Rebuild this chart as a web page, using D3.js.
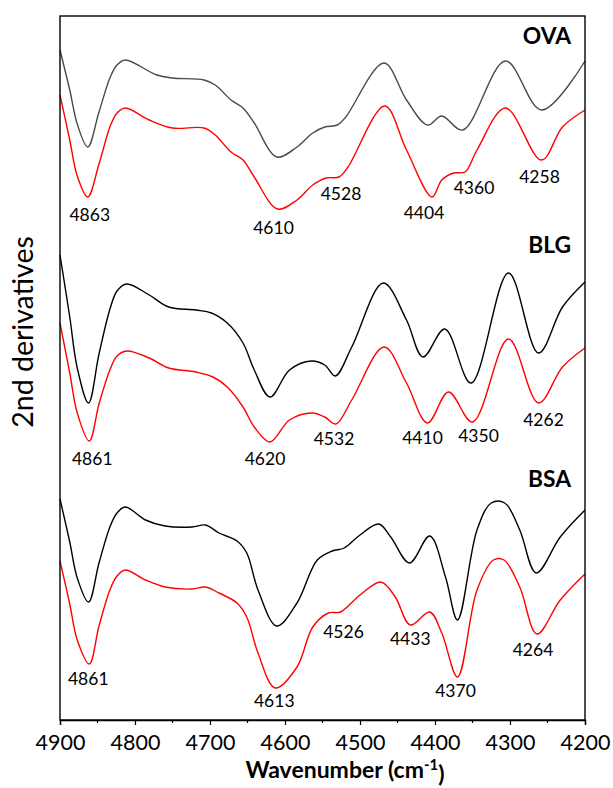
<!DOCTYPE html>
<html>
<head>
<meta charset="utf-8">
<script src="https://cdn.jsdelivr.net/npm/d3@7"></script>
<style>
  html, body { margin: 0; padding: 0; background: #fff; }
  svg { display: block; }
  text { font-family: Lato, "Open Sans", sans-serif; fill: #000; }
</style>
</head>
<body>
<svg id="chart" width="613" height="788"></svg>
<script>
// Second-derivative NIR spectra, [wavenumber (cm-1), amplitude (a.u., offset per trace)]
const ovaBlack = [[4900,6.70],[4887,6.30],[4877,5.96],[4863,5.73],[4848,6.08],[4833,6.43],[4824,6.55],[4813,6.60],[4771,6.45],[4750,6.42],[4708,6.40],[4693,6.35],[4672,6.20],[4656,6.12],[4641,5.97],[4611,5.63],[4584,5.73],[4563,5.87],[4547,5.93],[4530,5.95],[4519,6.03],[4468,6.57],[4438,6.20],[4410,5.95],[4391,6.04],[4363,5.90],[4306,6.59],[4258,6.10],[4200,6.59]];
const ovaRed   = [[4900,6.25],[4887,5.80],[4877,5.44],[4863,5.23],[4848,5.56],[4833,5.94],[4824,6.07],[4813,6.12],[4781,6.00],[4750,5.92],[4708,5.92],[4693,5.85],[4672,5.68],[4656,5.60],[4641,5.43],[4610,5.11],[4584,5.20],[4563,5.35],[4545,5.42],[4528,5.43],[4516,5.53],[4467,6.14],[4438,5.70],[4404,5.23],[4391,5.40],[4375,5.47],[4360,5.48],[4344,5.70],[4306,6.12],[4258,5.60],[4230,5.93],[4200,6.10]];

const blgBlack = [[4900,4.65],[4887,4.03],[4877,3.52],[4862,3.17],[4848,3.66],[4833,4.12],[4824,4.29],[4811,4.36],[4781,4.25],[4755,4.13],[4719,4.10],[4698,4.07],[4677,3.97],[4656,3.77],[4641,3.50],[4620,3.23],[4594,3.50],[4565,3.59],[4547,3.55],[4533,3.44],[4511,3.73],[4469,4.37],[4438,4.00],[4416,3.63],[4387,3.91],[4352,3.37],[4302,4.47],[4262,3.67],[4230,4.13],[4200,4.38]];
const blgRed   = [[4900,3.97],[4887,3.47],[4877,3.07],[4861,2.79],[4848,3.16],[4833,3.51],[4824,3.64],[4811,3.69],[4781,3.62],[4755,3.52],[4719,3.48],[4696,3.43],[4677,3.33],[4656,3.13],[4641,2.93],[4620,2.78],[4594,3.00],[4564,3.07],[4547,3.03],[4532,2.96],[4511,3.20],[4468,3.73],[4438,3.37],[4410,2.97],[4382,3.28],[4350,2.98],[4302,3.81],[4262,3.17],[4230,3.53],[4200,3.72]];

const bsaBlack = [[4900,2.21],[4887,1.78],[4877,1.42],[4862,1.18],[4848,1.57],[4833,1.94],[4824,2.07],[4813,2.13],[4786,2.00],[4760,1.94],[4724,1.93],[4706,1.95],[4688,1.87],[4664,1.79],[4651,1.67],[4636,1.30],[4611,0.94],[4584,1.17],[4557,1.60],[4537,1.69],[4521,1.72],[4500,1.85],[4475,1.96],[4459,1.83],[4434,1.57],[4407,1.84],[4386,1.43],[4370,1.00],[4344,1.90],[4325,2.17],[4307,2.17],[4287,1.90],[4265,1.47],[4233,1.83],[4200,2.10]];
const bsaRed   = [[4900,1.59],[4887,1.16],[4877,0.80],[4861,0.56],[4848,0.94],[4833,1.31],[4824,1.44],[4813,1.50],[4786,1.40],[4760,1.33],[4724,1.31],[4706,1.33],[4688,1.27],[4664,1.17],[4651,1.03],[4636,0.67],[4613,0.32],[4584,0.53],[4563,0.93],[4542,1.07],[4526,1.08],[4500,1.25],[4472,1.38],[4453,1.23],[4433,0.95],[4407,1.08],[4391,0.87],[4370,0.43],[4344,1.30],[4322,1.60],[4308,1.60],[4287,1.33],[4264,0.86],[4233,1.20],[4200,1.46]];

// Assigned band positions (cm-1)
const ovaBands = [4863, 4610, 4528, 4404, 4360, 4258];
const blgBands = [4861, 4620, 4532, 4410, 4350, 4262];
const bsaBands = [4861, 4613, 4526, 4433, 4370, 4264];

const proteins = ["OVA", "BLG", "BSA"];
const xTicks = [4900, 4800, 4700, 4600, 4500, 4400, 4300, 4200];
const xMinorTicks = [4850, 4750, 4650, 4550, 4450, 4350, 4250];

// Label nudges [dx, dy] in px from the band point on the red trace
const ovaNudge = [[2,18],[-4,19],[2,17],[-8,16],[9,16],[-2,17]];
const blgNudge = [[3,18],[-5,17],[-2,15],[-5,15],[6,14],[5,17]];
const bsaNudge = [[-1,15],[-1,13],[3,20],[0,14],[-2,14],[-4,16]];

const groups = [
  { name: proteins[0], black: ovaBlack, red: ovaRed, bands: ovaBands, nudge: ovaNudge, ink: "#4a4a4a", titleY: 44 },
  { name: proteins[1], black: blgBlack, red: blgRed, bands: blgBands, nudge: blgNudge, ink: "#000000", titleY: 253 },
  { name: proteins[2], black: bsaBlack, red: bsaRed, bands: bsaBands, nudge: bsaNudge, ink: "#000000", titleY: 487 }
];

const svg = d3.select("#chart");
const frame = { left: 60, right: 585, top: 16, bottom: 720 };

const x = d3.scaleLinear().domain([4900, 4200]).range([frame.left, frame.right]);
const y = d3.scaleLinear().domain([0, 7.04]).range([frame.bottom, frame.top]);

const line = d3.line()
  .x(d => x(d[0]))
  .y(d => y(d[1]))
  .curve(d3.curveCatmullRom.alpha(0.5));

const plot = svg.append("g");

groups.forEach(g => {
  plot.append("path")
    .datum(g.black)
    .attr("d", line)
    .attr("fill", "none")
    .attr("stroke", g.ink)
    .attr("stroke-width", 1.4);
  plot.append("path")
    .datum(g.red)
    .attr("d", line)
    .attr("fill", "none")
    .attr("stroke", "#ff0000")
    .attr("stroke-width", 1.4);

  g.bands.forEach((b, i) => {
    const pt = g.red.find(p => p[0] === b);
    plot.append("text")
      .attr("x", x(b) + g.nudge[i][0])
      .attr("y", y(pt[1]) + g.nudge[i][1])
      .attr("dy", "0.36em")
      .attr("text-anchor", "middle")
      .style("font-size", "17.5px")
      .text(b);
  });

  svg.append("text")
    .attr("x", 571)
    .attr("y", g.titleY)
    .attr("text-anchor", "end")
    .style("font-size", "22.8px")
    .style("font-weight", "700")
    .text(g.name);
});

// Frame
svg.append("rect")
  .attr("x", frame.left).attr("y", frame.top)
  .attr("width", frame.right - frame.left).attr("height", frame.bottom - frame.top)
  .attr("fill", "none")
  .attr("stroke", "#000")
  .attr("stroke-width", 1.4);

// Bottom axis
const axis = svg.append("g")
  .attr("transform", `translate(0,${frame.bottom})`)
  .call(d3.axisBottom(x).tickValues(xTicks).tickSize(5).tickPadding(10).tickFormat(d3.format("d")));
axis.select(".domain").attr("stroke-width", 1.4);
axis.selectAll(".tick line").attr("stroke-width", 1.2);
axis.selectAll(".tick text")
  .style("font-family", "Lato, 'Open Sans', sans-serif")
  .style("font-size", "21.5px");

axis.selectAll(".minor")
  .data(xMinorTicks)
  .enter().append("line")
  .attr("class", "minor")
  .attr("x1", d => x(d)).attr("x2", d => x(d))
  .attr("y1", 0).attr("y2", 3)
  .attr("stroke", "#000")
  .attr("stroke-width", 1.2);

// Axis titles
const xTitle = svg.append("text")
  .attr("x", 345)
  .attr("y", 778)
  .attr("text-anchor", "middle")
  .style("font-size", "23px")
  .style("font-weight", "700");
xTitle.append("tspan").text("Wavenumber (cm");
xTitle.append("tspan").attr("dy", "-0.55em").style("font-size", "15px").text("-1");
xTitle.append("tspan").attr("dy", "0.55em").text(")");

svg.append("text")
  .attr("transform", "translate(33,332) rotate(-90)")
  .attr("text-anchor", "middle")
  .style("font-size", "28.5px")
  .text("2nd derivatives");
</script>
</body>
</html>
